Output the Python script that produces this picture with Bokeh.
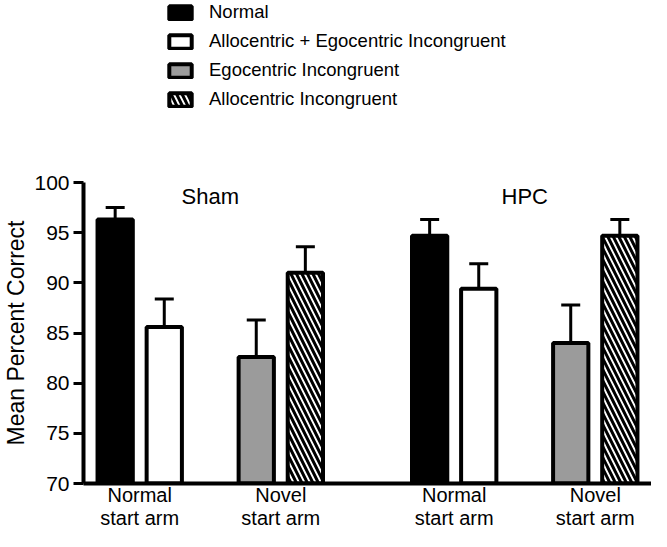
from bokeh.plotting import figure
from bokeh.layouts import column
from bokeh.models import FactorRange, Legend, LegendItem, ColumnDataSource, FixedTicker, Range1d
from bokeh.transform import dodge
from bokeh.core.properties import value
from bokeh.embed import file_html
from bokeh.resources import INLINE

# ---- data ----
groups = ["Sham", "HPC"]
arms = ["Normal\nstart arm", "Novel\nstart arm"]
series_names = ["Normal", "Allocentric + Egocentric Incongruent",
                "Egocentric Incongruent", "Allocentric Incongruent"]
normal_mean = [96.3, 94.7]
normal_sem = [1.2, 1.6]
alloego_mean = [85.6, 89.4]
alloego_sem = [2.8, 2.5]
ego_mean = [82.6, 84.0]
ego_sem = [3.7, 3.8]
allo_mean = [91.0, 94.7]
allo_sem = [2.6, 1.6]
y_ticks = [70, 75, 80, 85, 90, 95, 100]

FONT = "Liberation Sans"
W = 651
TOP_H = 150

styles = [
    dict(fill_color="black"),
    dict(fill_color="white"),
    dict(fill_color="#9b9b9b"),
    dict(fill_color="white", hatch_pattern="\\", hatch_color="black",
         hatch_scale=11, hatch_weight=3),
]
series = [
    (series_names[0], normal_mean, normal_sem, 0, -0.174),
    (series_names[1], alloego_mean, alloego_sem, 0, 0.174),
    (series_names[2], ego_mean, ego_sem, 1, -0.174),
    (series_names[3], allo_mean, allo_sem, 1, 0.174),
]
factors = [(g, a) for g in groups for a in arms]
sources = []
for name, means, sems, arm_i, off in series:
    sources.append(ColumnDataSource(dict(
        x=[(g, arms[arm_i]) for g in groups],
        top=means,
        upper=[m + s for m, s in zip(means, sems)],
    )))

# ---- legend strip (its bars are hidden; only the legend shows) ----
lf = figure(width=W, height=TOP_H, x_range=FactorRange(*factors), y_range=Range1d(0, 1),
            output_backend="svg", toolbar_location=None,
            x_axis_location=None, y_axis_location=None,
            min_border=0, min_border_left=0, min_border_right=0,
            min_border_top=0, min_border_bottom=0)
lf.grid.visible = False
lf.outline_line_color = None
items = []
for (name, *_), st, src in zip(series, styles, sources):
    r = lf.vbar(x="x", top="top", bottom=70, width=0.2, source=src,
                line_color="black", line_width=4, visible=False, **st)
    items.append(LegendItem(label=name, renderers=[r]))
legend = Legend(items=items, location=(83, TOP_H - 110), orientation="vertical",
                glyph_width=28, glyph_height=17, label_height=22, spacing=7,
                label_standoff=15, padding=0, margin=0, border_line_color=None,
                background_fill_alpha=0, inactive_fill_alpha=0,
                label_text_font=FONT,
                label_text_font_size="18.5px", label_text_color="black")
lf.add_layout(legend)

# ---- main chart ----
p = figure(x_range=FactorRange(*factors, group_padding=0.229, range_padding=-0.048),
           y_range=(70, 100), width=W, height=531 - TOP_H,
           output_backend="svg", toolbar_location=None,
           min_border_top=32, min_border_bottom=45,
           min_border_left=0, min_border_right=0)

for (name, means, sems, arm_i, off), st, src in zip(series, styles, sources):
    xs = dodge("x", off, range=p.x_range)
    p.segment(x0=xs, y0="top", x1=xs, y1="upper", source=src,
              line_color="black", line_width=3)
    p.scatter(x=xs, y="upper", marker="dash", size=19, source=src,
              line_color="black", line_width=3)
    p.vbar(x=xs, top="top", bottom=70, width=0.25, source=src,
           line_color="black", line_width=4, **st)

p.text(x=groups, y=98.6, text=groups, text_font=value(FONT), text_font_size="22px",
       text_align="center", text_baseline="middle", text_color="black")

# axes
xa = p.xaxis[0]
xa.major_label_text_font = FONT
xa.major_label_text_font_size = "20px"
xa.major_label_text_color = "black"
xa.major_label_text_line_height = 1.05
xa.group_text_font_size = "0px"
xa.group_text_color = None
xa.separator_line_color = None
xa.major_tick_out = 0
xa.major_tick_in = 0
xa.axis_line_width = 4
xa.axis_line_color = "black"
xa.major_label_standoff = 0

ya = p.yaxis[0]
ya.ticker = FixedTicker(ticks=y_ticks)
ya.major_tick_out = 10
ya.major_tick_in = 0
ya.minor_tick_out = 0
ya.minor_tick_in = 0
ya.major_tick_line_width = 3
ya.major_tick_line_color = "black"
ya.axis_line_width = 4
ya.axis_line_color = "black"
ya.major_label_text_font = FONT
ya.major_label_text_font_size = "21px"
ya.major_label_text_color = "black"
ya.major_label_standoff = 4
ya.axis_label = "Mean Percent Correct"
ya.axis_label_text_font = FONT
ya.axis_label_text_font_size = "23px"
ya.axis_label_text_font_style = "normal"
ya.axis_label_text_color = "black"
ya.axis_label_standoff = 2

p.grid.visible = False
p.outline_line_color = None

layout = column(lf, p, spacing=0)
open("out.html", "w").write(file_html(layout, INLINE))
